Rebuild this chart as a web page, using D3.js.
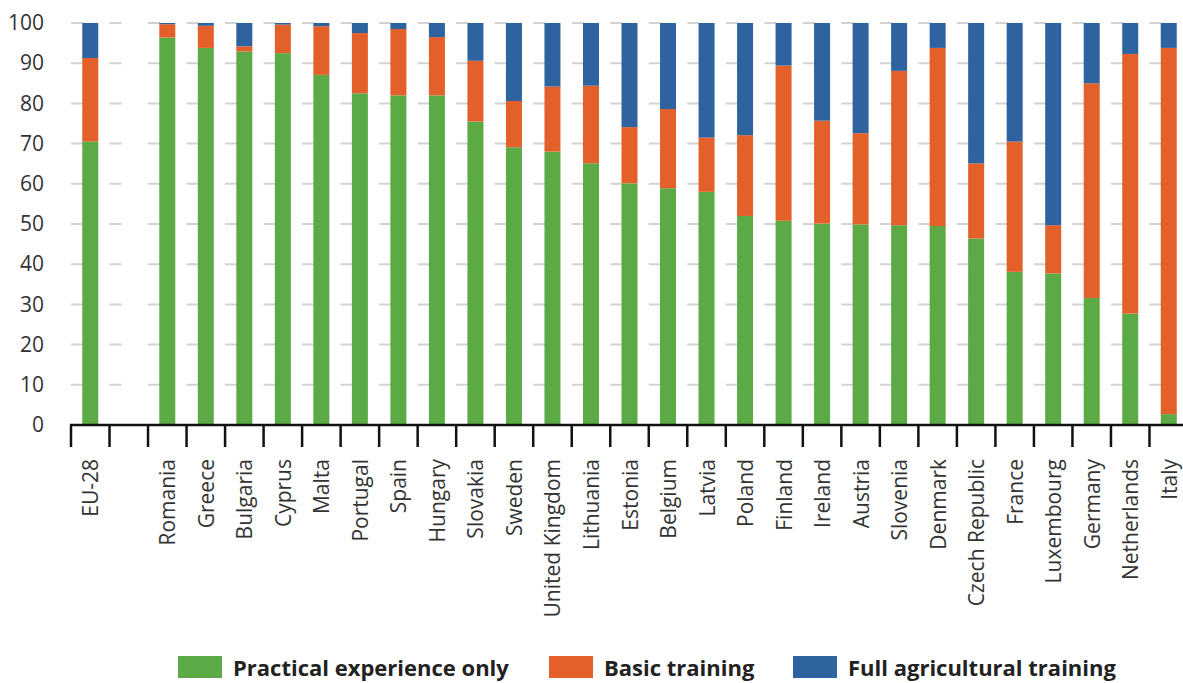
<!DOCTYPE html>
<html>
<head>
<meta charset="utf-8">
<script src="https://cdn.jsdelivr.net/npm/d3@7"></script>
<style>
  body { margin: 0; background: #fff; }
  svg { display: block; font-family: "Open Sans", sans-serif; }
  .tick text { fill: #333; }
</style>
</head>
<body>
<div id="chart"></div>
<script>
// the blank slot after EU-28 is kept as ''
const categories = ['EU-28', '', 'Romania', 'Greece', 'Bulgaria', 'Cyprus', 'Malta', 'Portugal', 'Spain',
  'Hungary', 'Slovakia', 'Sweden', 'United Kingdom', 'Lithuania', 'Estonia', 'Belgium', 'Latvia',
  'Poland', 'Finland', 'Ireland', 'Austria', 'Slovenia', 'Denmark', 'Czech Republic', 'France',
  'Luxembourg', 'Germany', 'Netherlands', 'Italy'];
const practical = [70.5, null, 96.4, 93.8, 92.9, 92.5, 87.1, 82.5, 82.0, 82.0, 75.5, 69.1, 68.0, 65.1,
  60.1, 58.9, 58.0, 52.0, 50.8, 50.1, 49.9, 49.7, 49.5, 46.4, 38.1, 37.7, 31.6, 27.7, 2.7];
const basic = [20.8, null, 3.3, 5.5, 1.3, 7.1, 12.1, 15.0, 16.5, 14.5, 15.1, 11.5, 16.2, 19.3,
  14.0, 19.7, 13.5, 20.1, 38.6, 25.6, 22.7, 38.4, 44.3, 18.7, 32.4, 12.0, 53.4, 64.6, 91.1];
const full = [8.7, null, 0.3, 0.7, 5.8, 0.4, 0.8, 2.5, 1.5, 3.5, 9.4, 19.4, 15.8, 15.6,
  25.9, 21.4, 28.5, 27.9, 10.6, 24.3, 27.4, 11.9, 6.2, 34.9, 29.5, 50.3, 15.0, 7.7, 6.2];
const yTicks = [0, 10, 20, 30, 40, 50, 60, 70, 80, 90, 100];

const keys = ['practical', 'basic', 'full'];
const labels = {practical: 'Practical experience only', basic: 'Basic training', full: 'Full agricultural training'};
const colors = {practical: '#5BAA45', basic: '#E3602A', full: '#2F63A0'};

const width = 1183;
const height = 683;
const margin = {top: 23, right: -5, bottom: 258, left: 71};

const data = categories.map((c, i) => ({
  key: 'c' + i, name: c,
  practical: practical[i], basic: basic[i], full: full[i]
}));

const xScale = d3.scaleBand()
  .domain(data.map(d => d.key))
  .range([margin.left, width - margin.right]);

const yScale = d3.scaleLinear()
  .domain([0, 100])
  .range([height - margin.bottom, margin.top]);

const barW = 16;

const svg = d3.select('#chart').append('svg')
  .attr('width', width)
  .attr('height', height);

// dashed gridlines
svg.append('g')
  .selectAll('line')
  .data(yTicks.filter(t => t > 0))
  .join('line')
  .attr('x1', margin.left)
  .attr('x2', width)
  .attr('y1', d => yScale(d))
  .attr('y2', d => yScale(d))
  .attr('stroke', '#d2d2d2')
  .attr('stroke-width', 2)
  .attr('stroke-dasharray', `12,${xScale.bandwidth() - 12}`);

// y axis, labels only
svg.append('g')
  .attr('transform', `translate(${margin.left},0)`)
  .call(d3.axisLeft(yScale).tickValues(yTicks).tickSize(0).tickPadding(27))
  .call(g => g.select('.domain').remove())
  .selectAll('text')
  .attr('font-size', 21)
  .attr('font-family', 'Open Sans, sans-serif');

// stacked bars
const stacked = d3.stack().keys(keys)(data.filter(d => d.practical !== null));

svg.append('g')
  .selectAll('g')
  .data(stacked)
  .join('g')
  .attr('fill', s => colors[s.key])
  .selectAll('rect')
  .data(s => s)
  .join('rect')
  .attr('x', d => xScale(d.data.key) + (xScale.bandwidth() - barW) / 2)
  .attr('width', barW)
  .attr('y', d => yScale(d[1]))
  .attr('height', d => yScale(d[0]) - yScale(d[1]));

// x axis: ticks on band edges
const xg = svg.append('g')
  .attr('transform', `translate(0,${yScale(0)})`);

xg.append('line')
  .attr('x1', margin.left - 1)
  .attr('x2', width)
  .attr('stroke', '#111')
  .attr('stroke-width', 2.5);

xg.selectAll('.edge')
  .data(data)
  .join('line')
  .attr('class', 'edge')
  .attr('x1', d => xScale(d.key))
  .attr('x2', d => xScale(d.key))
  .attr('y1', 0)
  .attr('y2', 22)
  .attr('stroke', '#111')
  .attr('stroke-width', 2.5);

xg.selectAll('.lbl')
  .data(data)
  .join('text')
  .attr('class', 'lbl')
  .attr('transform', d => `translate(${xScale(d.key) + xScale.bandwidth() / 2 + 8},34) rotate(-90)`)
  .attr('text-anchor', 'end')
  .attr('font-size', 21)
  .attr('fill', '#333')
  .text(d => d.name);

// legend
const legendItems = [
  {key: 'practical', x: 178},
  {key: 'basic', x: 549},
  {key: 'full', x: 793}
];
const lg = svg.append('g').attr('transform', 'translate(0,656)');
lg.selectAll('rect')
  .data(legendItems)
  .join('rect')
  .attr('x', d => d.x)
  .attr('width', 44)
  .attr('height', 22)
  .attr('fill', d => colors[d.key]);
lg.selectAll('text')
  .data(legendItems)
  .join('text')
  .attr('x', d => d.x + 55)
  .attr('y', 20)
  .attr('font-size', 22)
  .attr('font-weight', 'bold')
  .attr('fill', '#222')
  .text(d => labels[d.key]);
</script>
</body>
</html>
